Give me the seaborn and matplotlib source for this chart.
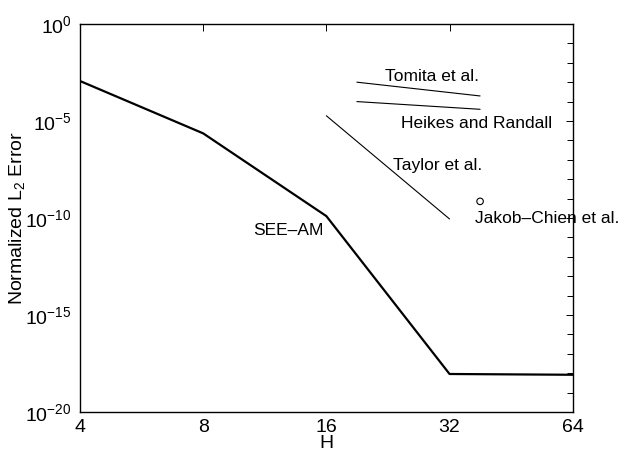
import numpy as np
import pandas as pd
import seaborn as sns
import matplotlib.pyplot as plt
from matplotlib.ticker import FixedLocator, LogFormatterMathtext, FixedFormatter, NullFormatter

# data
h_see = [4, 8, 16, 32, 64]
err_see = [1.15e-3, 2.3e-6, 1.25e-10, 9.1e-19, 8.3e-19]

h_tomita = [19, 38]
err_tomita = [1.0e-3, 1.95e-4]

h_heikes = [19, 38]
err_heikes = [1.0e-4, 4.0e-5]

h_taylor = [16, 32]
err_taylor = [1.86e-5, 8.9e-11]

h_jakob = [38]
err_jakob = [7.2e-10]

x_ticks = [4, 8, 16, 32, 64]

sns.set_style("white")
plt.rcParams['font.family'] = ['Liberation Sans', 'DejaVu Sans']
plt.rcParams['text.color'] = 'black'
plt.rcParams['axes.labelcolor'] = 'black'
plt.rcParams['mathtext.fontset'] = 'custom'
plt.rcParams['mathtext.rm'] = 'Liberation Sans'
plt.rcParams['mathtext.it'] = 'Liberation Sans:italic'

fig = plt.figure(figsize=(6.23, 4.55), dpi=100)
ax = fig.add_axes([0.1284, 0.0945, 0.7909, 0.8528])

df_see = pd.DataFrame({"H": h_see, "err": err_see})
sns.lineplot(data=df_see, x="H", y="err", ax=ax, color="black", lw=1.6)
sns.lineplot(x=h_tomita, y=err_tomita, ax=ax, color="black", lw=0.8)
sns.lineplot(x=h_heikes, y=err_heikes, ax=ax, color="black", lw=0.8)
sns.lineplot(x=h_taylor, y=err_taylor, ax=ax, color="black", lw=0.8)
sns.scatterplot(x=h_jakob, y=err_jakob, ax=ax, marker="o", s=22,
                facecolor="none", edgecolor="black", linewidth=0.8)

ax.set_xscale("log", base=2)
ax.set_yscale("log")
ax.set_xlim(4, 64)
ax.set_ylim(1e-20, 1e0)

ax.xaxis.set_major_locator(FixedLocator(x_ticks))
ax.xaxis.set_major_formatter(FixedFormatter([str(t) for t in x_ticks]))
ax.xaxis.set_minor_locator(FixedLocator([]))
ax.yaxis.set_major_locator(FixedLocator([10.0 ** e for e in range(-20, 1, 5)]))
ax.yaxis.set_major_formatter(LogFormatterMathtext())
ax.yaxis.set_minor_locator(FixedLocator([10.0 ** e for e in range(-20, 1)]))
ax.yaxis.set_minor_formatter(NullFormatter())

ax.tick_params(which="both", direction="in", top=True, right=True,
               labelsize=14, colors="black", width=0.7)
ax.tick_params(axis="x", which="major", length=5, pad=5)
ax.tick_params(axis="y", which="major", length=5, pad=6)
ax.tick_params(which="minor", length=4)
for s in ax.spines.values():
    s.set_color("black")
    s.set_linewidth(1.0)

ax.set_xlabel("H", fontsize=14, labelpad=-1)
ax.set_ylabel("Normalized L$_2$ Error", fontsize=14, labelpad=-1)

fs = 12.5
ax.text(22.3, 10 ** -2.73, "Tomita et al.", fontsize=fs, va="center")
ax.text(24.3, 10 ** -5.15, "Heikes and Randall", fontsize=fs, va="center")
ax.text(23.3, 10 ** -7.32, "Taylor et al.", fontsize=fs, va="center")
ax.text(37.0, 10 ** -10.05, "Jakob\u2013Chien et al.", fontsize=fs, va="center", clip_on=False)
ax.text(10.6, 10 ** -10.62, "SEE\u2013AM", fontsize=fs, va="center")

plt.savefig("out.png", dpi=100)
